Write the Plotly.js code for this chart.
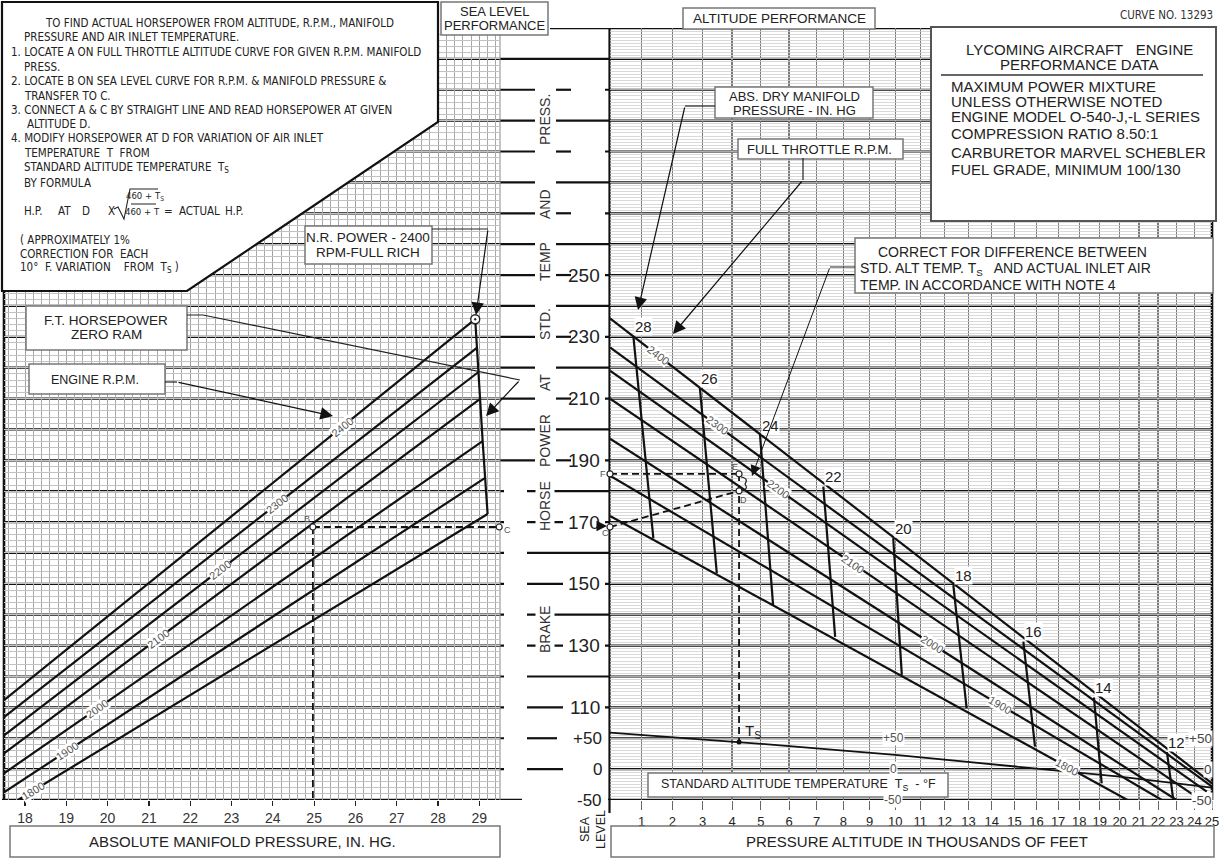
<!DOCTYPE html>
<html><head><meta charset="utf-8">
<script src="https://cdn.plot.ly/plotly-3.0.1.min.js"></script>
<style>html,body{margin:0;padding:0;background:#fff}</style>
</head><body>
<div id="chart" style="width:1224px;height:864px"></div>
<script>
// ===================== DATA =====================
const rpm = [2400, 2300, 2200, 2100, 2000, 1900, 1800];
// Sea level performance: each RPM line from lowest visible point to its full-throttle point
const slLowMp = [17.5, 17.5, 17.5, 17.5, 17.5, 17.5, 17.83];
const slLowHp = [112.4, 106.9, 101.0, 95.2, 88.7, 82.6, 80.0];
const slFtMp  = [28.90, 28.94, 28.98, 29.02, 29.08, 29.14, 29.20];
const slFtHp  = [235.7, 226.4, 218.6, 209.9, 196.2, 184.3, 172.6];
// Altitude performance: RPM lines from sea level to their last visible point
const altSlHp   = [236.0, 226.6, 219.0, 210.0, 197.0, 185.0, 172.0];
const altEndKft = [25.0, 25.0, 24.7, 24.1, 23.0, 22.2, 20.4];
const altEndHp  = [85.4, 84.3, 82.7, 81.0, 80.0, 80.0, 80.0];
// Full throttle manifold pressure lines (in. Hg) from 2400 rpm line down to 1800 rpm line
const ftMp     = [28, 26, 24, 22, 20, 18, 16, 14, 12];
const ftTopKft = [0.74, 2.91, 4.97, 7.25, 9.92, 12.36, 15.40, 18.72, 22.48];
const ftTopHp  = [230.0, 213.4, 198.2, 181.5, 164.8, 149.6, 131.3, 113.2, 95.5];
const ftBotKft = [1.38, 3.48, 5.43, 7.69, 10.26, 12.92, 15.93, 19.10, 22.81];
const ftBotHp  = [164.7, 153.4, 143.1, 132.8, 120.5, 109.7, 97.3, 85.4, 80.6];
// Standard altitude temperature
const tsKft  = [0, 5, 10, 15, 20, 25];
const tsDegF = [59, 41, 23, 5, -12, -30];
// Tick labels
const mpTicks  = [18, 19, 20, 21, 22, 23, 24, 25, 26, 27, 28, 29];
const altTicks = [1,2,3,4,5,6,7,8,9,10,11,12,13,14,15,16,17,18,19,20,21,22,23,24,25];
const hpTickLabels   = [250, 230, 210, 190, 170, 150, 130, 110];
const tempTickLabels = [50, 0, -50];
// Worked example points
const exBMp = 24.97, exCMp = 29.48, exCHp = 168.4;
const exDKft = 4.24, exDHp = 180.1, exEHp = 185.6, exTsF = 44;

// ===================== SCALES =====================
const W = 1224, H = 864;
const PX = x => x / W, PY = y => 1 - y / H;
// altitude scale of the chart (density-altitude spacing)
const altU = k => 1 - Math.pow(1 - 6.8756e-3 * k, 4.2559);
const U25 = altU(25);
const tempHp = t => 90 + t / 5;           // temperature scale on the HP grid
const yPx = (800 - 28) / 250, xPxL = (500 - 4.35) / 12, xPxR = (1212 - 610) / U25;

const NARROW = "'Liberation Sans Narrow','Arial Narrow','DejaVu Sans Condensed',sans-serif";
const SANS = "'Liberation Sans',Arial,sans-serif";

// ===================== TRACES =====================
const traces = [];
const K = '#111';
rpm.forEach((r, i) => {
  traces.push({x:[slLowMp[i], slFtMp[i]], y:[slLowHp[i], slFtHp[i]], xaxis:'x', yaxis:'y', mode:'lines', line:{color:K, width:2.2}, hoverinfo:'skip'});
  traces.push({x:[0, altU(altEndKft[i])], y:[altSlHp[i], altEndHp[i]], xaxis:'x2', yaxis:'y2', mode:'lines', line:{color:K, width:2.2}, hoverinfo:'skip'});
});
traces.push({x:slFtMp, y:slFtHp, xaxis:'x', yaxis:'y', mode:'lines', line:{color:K, width:2.2}, hoverinfo:'skip'});
ftMp.forEach((m, i) => {
  traces.push({x:[altU(ftTopKft[i]), altU(ftBotKft[i])], y:[ftTopHp[i], ftBotHp[i]], xaxis:'x2', yaxis:'y2', mode:'lines', line:{color:K, width:2.2}, hoverinfo:'skip'});
});
traces.push({x:tsKft.map(altU), y:tsDegF.map(tempHp), xaxis:'x2', yaxis:'y2', mode:'lines', line:{color:K, width:1.8}, hoverinfo:'skip'});
// example dashed lines
const dash = {color:K, width:1.8, dash:'7px,4px'};
traces.push({x:[exBMp, exCMp], y:[exCHp, exCHp], xaxis:'x', yaxis:'y', mode:'lines', line:dash, hoverinfo:'skip'});
traces.push({x:[exBMp, exBMp], y:[exCHp, 80], xaxis:'x', yaxis:'y', mode:'lines', line:dash, hoverinfo:'skip'});
traces.push({x:[0, altU(exDKft)], y:[exCHp, exDHp], xaxis:'x2', yaxis:'y2', mode:'lines', line:dash, hoverinfo:'skip'});
traces.push({x:[0, altU(exDKft)], y:[exEHp, exEHp], xaxis:'x2', yaxis:'y2', mode:'lines', line:dash, hoverinfo:'skip'});
traces.push({x:[altU(exDKft), altU(exDKft)], y:[exEHp, tempHp(exTsF)], xaxis:'x2', yaxis:'y2', mode:'lines', line:dash, hoverinfo:'skip'});
const mk = {symbol:'circle', size:6, color:'#fff', line:{color:'#222', width:1.2}};
traces.push({x:[exBMp, exCMp], y:[exCHp, exCHp], xaxis:'x', yaxis:'y', mode:'markers', marker:mk, cliponaxis:false, hoverinfo:'skip'});
traces.push({x:[slFtMp[0]], y:[slFtHp[0]], xaxis:'x', yaxis:'y', mode:'markers', marker:{symbol:'circle-dot', size:9, color:'#fff', line:{color:'#222', width:1.4}}, cliponaxis:false, hoverinfo:'skip'});
traces.push({x:[0, altU(exDKft), altU(exDKft), 0], y:[exCHp, exDHp, exEHp, exEHp], xaxis:'x2', yaxis:'y2', mode:'markers', marker:mk, cliponaxis:false, hoverinfo:'skip'});
traces.push({x:[altU(exDKft)], y:[tempHp(exTsF)], xaxis:'x2', yaxis:'y2', mode:'markers', marker:{symbol:'circle', size:5, color:'#111'}, cliponaxis:false, hoverinfo:'skip'});

// ===================== SHAPES =====================
const shapes = [];
function hseg(hp, x0, x1, w){ shapes.push({type:'line', layer:'between', xref:'paper', yref:'y', x0:PX(x0), x1:PX(x1), y0:hp, y1:hp, line:{color:K, width:w || 2.2}}); }
function vline(x, y0, y1, w, c, layer){ shapes.push({type:'line', layer:layer || 'between', xref:'paper', yref:'paper', x0:PX(x), x1:PX(x), y0:PY(y0), y1:PY(y1), line:{color:c || K, width:w}}); }
for (let hp = 80; hp <= 330; hp += 10) {
  if (hp === 330) { hseg(hp, 550, 1214, 2.4); continue; }
  if (hp === 320) { hseg(hp, 4, 1212); continue; }
  if (hp === 80)  { hseg(hp, 2, 522, 2.6); hseg(hp, 608, 1213, 2.4); continue; }
  const hi = hp >= 190;
  hseg(hp, 4, hi ? 535 : 504);
  const rs = hi ? 556 : 527;
  if (hp === 100) { hseg(hp, rs, 557); hseg(hp, 609, 1212); }
  else if (hp === 90) { hseg(hp, rs, 563); hseg(hp, 609, 1212); }
  else if ((hp / 10) % 2 === 1) { hseg(hp, rs, hi ? 571 : 563); hseg(hp, 605, 1212); }
  else hseg(hp, rs, 1212);
}
vline(4, 290, 800, 2.6);
vline(500, 28, 800, 1, '#888');
vline(609.5, 28, 813, 2.2);
vline(1212, 27, 800, 2.6);

function P(x, y){ return PX(x) + ',' + PY(y); }
function path(pts, o){ shapes.push(Object.assign({type:'path', layer:'above', xref:'paper', yref:'paper', path:'M' + pts.map(p => P(p[0], p[1])).join(' L'), line:{color:'#222', width:1.2}}, o || {})); }
function box(x0, y0, x1, y1, o){ shapes.push(Object.assign({type:'rect', layer:'above', xref:'paper', yref:'paper', x0:PX(x0), x1:PX(x1), y0:PY(y1), y1:PY(y0), fillcolor:'#fff', line:{color:'#777', width:1.5}}, o || {})); }

// instruction box
shapes.push({type:'path', layer:'above', xref:'paper', yref:'paper', path:'M' + P(2,2) + ' L' + P(438,2) + ' L' + P(438,122) + ' L' + P(187,291) + ' L' + P(2,291) + ' Z', fillcolor:'#fff', line:{color:'#111', width:2.2}});
box(441, 2, 548, 35);
box(683, 8, 875, 29);
box(715, 87, 873, 118);
box(738, 139, 903, 159);
box(931, 27, 1216, 221, {line:{color:'#555', width:2}});
box(855, 238, 1213, 293);
box(305, 226, 432, 264);
box(26, 306, 187, 350);
box(29, 364, 165, 394);
box(648, 773, 948, 797);
box(10, 826, 500, 857);
box(611, 826, 1214, 857);
// underline in title box
path([[941,75],[1203,75]], {line:{color:'#333', width:1.5}});
// radical and fraction bar of the formula
path([[114,209],[118,207],[124,219],[130,189],[158,189]], {line:{color:'#222', width:1.1}});
path([[131,204],[156,204]], {line:{color:'#222', width:1}});
// leader lines
path([[432,229],[488,229]]);
path([[187,315],[203,315],[520,380]]);
path([[165,382],[177,382]]);
path([[715,106],[685,106]]);
path([[803,158],[803,180]]);
path([[855,267],[830,267]], {line:{color:'#222', width:1}});
// bracket at the temperature correction
shapes.push({type:'path', layer:'above', xref:'paper', yref:'paper', path:'M' + P(741,477) + ' Q' + P(749,478) + ' ' + P(745,484) + ' Q' + P(749,490) + ' ' + P(741,490), line:{color:'#222', width:1.2}});

// ===================== ANNOTATIONS =====================
const ann = [];
function txt(t, x, y, o){ ann.push(Object.assign({text:t, x:PX(x), y:PY(y), xref:'paper', yref:'paper', showarrow:false, xanchor:'center', yanchor:'middle', font:{family:SANS, size:13, color:'#222'}}, o || {})); }
function arrow(hx, hy, tx, ty, w){ ann.push({x:PX(hx), y:PY(hy), xref:'paper', yref:'paper', ax:tx - hx, ay:ty - hy, axref:'pixel', ayref:'pixel', text:'', showarrow:true, arrowhead:2, arrowsize:2.1, arrowwidth:w || 1.2, arrowcolor:'#111', standoff:0}); }
const F = (s, c, fam) => ({family:fam || SANS, size:s, color:c || '#222'});
const NB = '\u00A0';

// instruction text
const instr = [
  ['TO FIND ACTUAL HORSEPOWER FROM ALTITUDE, R.P.M., MANIFOLD', 43, 23],
  ['PRESSURE AND AIR INLET TEMPERATURE.', 22, 37],
  ['1. LOCATE A ON FULL THROTTLE ALTITUDE CURVE FOR GIVEN R.P.M. MANIFOLD', 9, 52],
  ['PRESS.', 22, 67],
  ['2. LOCATE B ON SEA LEVEL CURVE FOR R.P.M. &amp; MANIFOLD PRESSURE &amp;', 9, 81],
  ['TRANSFER TO C.', 22, 96],
  ['3. CONNECT A &amp; C BY STRAIGHT LINE AND READ HORSEPOWER AT GIVEN', 9, 110],
  ['ALTITUDE D.', 25, 124],
  ['4. MODIFY HORSEPOWER AT D FOR VARIATION OF AIR INLET', 9, 138],
  ['TEMPERATURE' + NB + NB + 'T' + NB + NB + 'FROM', 22, 153],
  ['STANDARD ALTITUDE TEMPERATURE' + NB + NB + 'T<sub>S</sub>', 22, 168],
  ['BY FORMULA', 22, 183],
  ['H.P.', 22, 211], ['AT', 56, 211], ['D', 80, 211], ['X', 106, 211],
  ['=', 162, 211], ['ACTUAL', 177, 211], ['H.P.', 223, 211],
  ['(' + NB + 'APPROXIMATELY 1%', 18, 240],
  ['CORRECTION FOR' + NB + NB + 'EACH', 18, 254],
  ['10\u00B0' + NB + NB + 'F. VARIATION' + NB + NB + NB + NB + 'FROM' + NB + NB + 'T<sub>S</sub>' + NB + ')', 18, 268]
];
instr.forEach(a => txt(a[0], a[1], a[2], {xanchor:'left', font:F(11.5, '#222', NARROW)}));
txt('460 + T<sub>S</sub>', 145, 196, {font:F(9.5, '#222', NARROW)});
txt('460 + T', 142, 212, {font:F(9.5, '#222', NARROW)});

// top labels
txt('CURVE NO. 13293', 1215, 15, {xanchor:'right', font:F(11.5, '#333', NARROW)});
txt('SEA LEVEL', 494, 12, {font:F(13)});
txt('PERFORMANCE', 494, 25, {font:F(13)});
txt('ALTITUDE PERFORMANCE', 779, 18.5, {font:F(13.5)});
txt('ABS. DRY MANIFOLD', 794, 97, {font:F(13)});
txt('PRESSURE - IN. HG', 794, 111, {font:F(13)});
txt('FULL THROTTLE R.P.M.', 820, 149.5, {font:F(13)});
txt('LYCOMING AIRCRAFT' + NB + NB + NB + 'ENGINE', 1079, 49, {font:F(15)});
txt('PERFORMANCE DATA', 1079, 64, {font:F(15)});
[['MAXIMUM POWER MIXTURE', 87], ['UNLESS OTHERWISE NOTED', 101], ['ENGINE MODEL O-540-J,-L SERIES', 117],
 ['COMPRESSION RATIO 8.50:1', 134], ['CARBURETOR MARVEL SCHEBLER', 152], ['FUEL GRADE, MINIMUM 100/130', 169]]
 .forEach(a => txt(a[0], 949, a[1], {xanchor:'left', font:F(15)}));
txt('CORRECT FOR DIFFERENCE BETWEEN', 876, 252, {xanchor:'left', font:F(14)});
txt('STD. ALT TEMP. T<sub>S</sub>' + NB + NB + ' AND ACTUAL INLET AIR', 858, 269, {xanchor:'left', font:F(14)});
txt('TEMP. IN ACCORDANCE WITH NOTE 4', 858, 285, {xanchor:'left', font:F(14)});
txt('N.R. POWER - 2400', 368, 237, {font:F(13.5)});
txt('RPM-FULL RICH', 368, 252.5, {font:F(13.5)});
txt('F.T. HORSEPOWER', 106, 320, {font:F(13.5)});
txt('ZERO RAM', 106, 334.5, {font:F(13.5)});
txt('ENGINE R.P.M.', 95, 380, {font:F(12.5)});
txt('STANDARD ALTITUDE TEMPERATURE' + NB + NB + 'T<sub>S</sub>' + NB + NB + '- \u00B0F', 798, 785, {font:F(12.5)});
txt('ABSOLUTE MANIFOLD PRESSURE, IN. HG.', 242, 841, {font:F(15)});
txt('PRESSURE ALTITUDE IN THOUSANDS OF FEET', 917, 841, {font:F(15)});
txt('SEA<br>LEVEL', 593, 830, {textangle:-90, font:F(12.5)});

// vertical caption in the middle column
[['PRESS.', 120], ['AND', 204], ['TEMP', 262], ['STD.', 324], ['AT', 383], ['POWER', 441], ['HORSE', 506], ['BRAKE', 630]]
 .forEach(a => txt(a[0], 545, a[1], {textangle:-90, bgcolor:'#fff', borderpad:1, font:F(14, '#333')}));

// HP scale labels
hpTickLabels.forEach(v => txt(String(v), 602, 800 - (v - 80) * yPx, {xanchor:'right', font:F(19, '#222')}));
tempTickLabels.forEach(t => {
  const y = 800 - (tempHp(t) - 80) * yPx;
  const s = t > 0 ? '+' + t : String(t);
  txt(s, 604, y, {xanchor:'right', font:F(17, '#222')});
  txt(s, 893, y, {bgcolor:'#fff', borderpad:0, font:F(12, '#555')});
  txt(s, 1213, y, {xanchor:'right', bgcolor:'#fff', borderpad:0, font:F(13.5, '#444')});
});

// RPM labels on the lines
const labL = [25.68, 24.10, 22.72, 21.22, 19.74, 19.02, 18.19];
const labR = [1.53, 3.49, 5.61, 8.36, 11.48, 14.36, 17.42];
rpm.forEach((r, i) => {
  const sL = (slFtHp[i] - slLowHp[i]) / (slFtMp[i] - slLowMp[i]);
  const hL = slLowHp[i] + (labL[i] - slLowMp[i]) * sL;
  const aL = Math.atan(sL * yPx / xPxL) * 180 / Math.PI;
  ann.push({text:String(r), x:labL[i], y:hL, xref:'x', yref:'y', showarrow:false, textangle:-aL, bgcolor:'#fff', borderpad:0, font:F(11, '#555')});
  const u1 = altU(altEndKft[i]), u = altU(labR[i]);
  const hR = altSlHp[i] + (u / u1) * (altEndHp[i] - altSlHp[i]);
  const aR = Math.atan((altSlHp[i] - altEndHp[i]) * yPx / (u1 * xPxR)) * 180 / Math.PI;
  ann.push({text:String(r), x:u, y:hR, xref:'x2', yref:'y2', showarrow:false, textangle:aR, bgcolor:'#fff', borderpad:0, font:F(11, '#555')});
});
// MP labels
ftMp.forEach((m, i) => ann.push({text:String(m), x:altU(ftTopKft[i]), y:ftTopHp[i], xref:'x2', yref:'y2', xshift:10, yshift:10, showarrow:false, bgcolor:'#fff', borderpad:0, font:F(15, '#222')}));

// example labels
txt('B', 307, 519, {font:F(9, '#555')});
txt('C', 507, 530, {font:F(9, '#555')});
txt('C', 605, 533, {font:F(9, '#555')});
txt('D', 744, 500, {font:F(9, '#555')});
txt('E', 735, 467, {font:F(9, '#555')});
txt('F', 603, 474, {font:F(9, '#555')});
txt('T<sub>S</sub>', 753, 731, {font:F(15, '#222')});

// arrows
arrow(476, 315, 488, 229);
arrow(486, 416, 520, 380);
arrow(333, 416, 177, 382);
arrow(638, 310, 685, 106);
arrow(673, 334, 803, 180);
arrow(752, 476, 830, 267, 1);
arrow(607, 526, 596, 526, 1);

// ===================== LAYOUT =====================
const layout = {
  width: W, height: H, margin:{l:0, r:0, t:0, b:0}, paper_bgcolor:'#fff', plot_bgcolor:'rgba(0,0,0,0)',
  showlegend:false, font:{family:SANS, color:'#222'},
  xaxis:{domain:[PX(4.35), PX(500)], range:[17.5, 29.5], anchor:'y', tickmode:'array', tickvals:mpTicks, ticktext:mpTicks.map(String),
    ticks:'outside', ticklen:5, tickwidth:1.2, tickcolor:'#222', tickfont:F(14, '#333'),
    showgrid:true, gridcolor:'#a0a0a0', gridwidth:1, minor:{tick0:17.6, dtick:0.2, showgrid:true, gridcolor:'#a8a8a8', gridwidth:1, ticks:''},
    zeroline:false, showline:false, fixedrange:true},
  yaxis:{domain:[PY(800), PY(28)], range:[80, 330], anchor:'x', tickmode:'linear', tick0:80, dtick:2, showticklabels:false, ticks:'',
    showgrid:true, gridcolor:'#c2c2c2', gridwidth:1, zeroline:false, showline:false},
  xaxis2:{domain:[PX(610), PX(1212)], range:[0, U25], anchor:'y2', tickmode:'array', tickvals:altTicks.map(altU), ticktext:altTicks.map(String),
    ticks:'outside', ticklen:9, tickwidth:1, tickcolor:'#666', tickfont:F(13, '#222'),
    showgrid:true, gridcolor:'#7a7a7a', gridwidth:1.2, zeroline:false, showline:false},
  yaxis2:{domain:[PY(800), PY(28)], range:[80, 330], anchor:'x2', tickmode:'linear', tick0:80, dtick:1, showticklabels:false, ticks:'',
    showgrid:true, gridcolor:'#cfcfcf', gridwidth:0.8, zeroline:false, showline:false},
  shapes: shapes, annotations: ann
};
Plotly.newPlot('chart', traces, layout, {staticPlot:true, displayModeBar:false});
</script>
</body></html>
